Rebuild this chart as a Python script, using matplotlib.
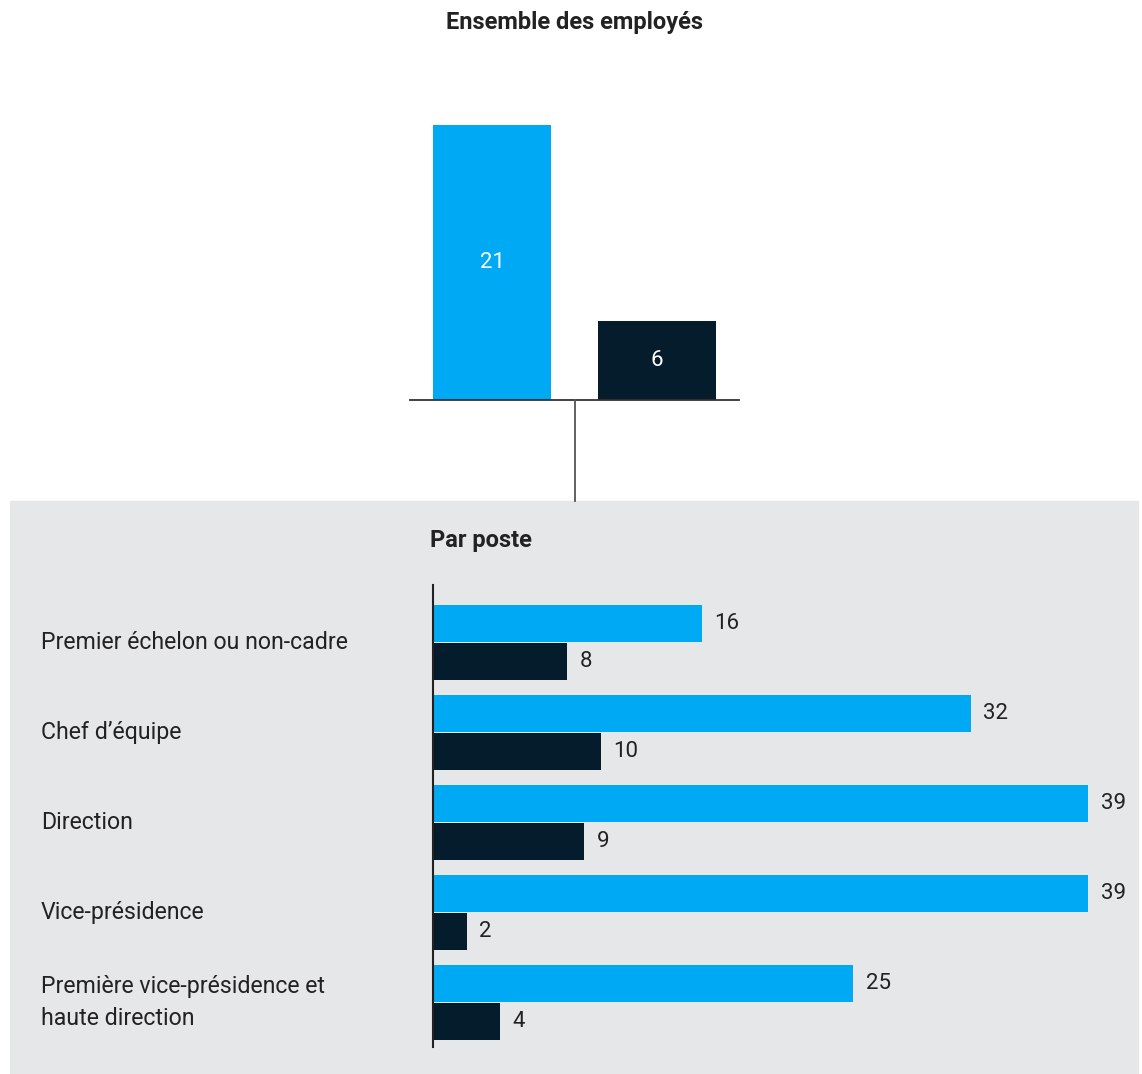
import matplotlib.pyplot as plt
from matplotlib.patches import Rectangle
from matplotlib.transforms import blended_transform_factory

plt.rcParams['font.family'] = ['Roboto', 'DejaVu Sans']

# Ensemble des employés
overall_values = [21, 6]

# Par poste
postes = ['Premier échelon ou non-cadre', 'Chef d\u2019équipe', 'Direction',
          'Vice-présidence', 'Première vice-présidence et\nhaute direction']
serie_bleue = [16, 32, 39, 39, 25]
serie_foncee = [8, 10, 9, 2, 4]

BLUE = '#00A9F4'
DARK = '#051C2C'
PANEL = '#E6E7E9'
TXT = '#222222'

W, H = 1142, 1074
fig = plt.figure(figsize=(W / 100, H / 100), dpi=100)


def box(x0, y0, x1, y1):
    # pixel box (top-left origin) -> figure fraction rect
    return [x0 / W, 1 - y1 / H, (x1 - x0) / W, (y1 - y0) / H]


# grey panel behind the breakdown
fig.patches.append(Rectangle((10 / W, 0), (1138 - 10) / W, 1 - 501 / H,
                             transform=fig.transFigure, color=PANEL, zorder=-5))

# stem linking the two parts
fig.add_artist(plt.Line2D([575 / W, 575 / W], [1 - 400 / H, 1 - 501 / H],
                          transform=fig.transFigure, color='#555555', lw=1.3))

fig.text(575 / W, 1 - 22 / H, 'Ensemble des employés', ha='center', va='center',
         fontsize=17, fontweight='bold', color=TXT)

# top column chart
ax1 = fig.add_axes(box(410, 125, 739, 400))
ax1.bar([0, 1], overall_values, width=0.715, color=[BLUE, DARK])
ax1.set_xlim(-0.5, 1.5)
ax1.set_ylim(0, max(overall_values))
for i, v in enumerate(overall_values):
    ax1.text(i, v / 2, str(v), ha='center', va='center', color='white', fontsize=16)
ax1.axhline(0, color='#333333', lw=1.3, clip_on=False)
for s in ax1.spines.values():
    s.set_visible(False)
ax1.set_xticks([])
ax1.set_yticks([])
ax1.patch.set_visible(False)

fig.text(430 / W, 1 - 541 / H, 'Par poste', ha='left', va='center',
         fontsize=17, fontweight='bold', color=TXT)

# horizontal bars by position
ax2 = fig.add_axes(box(433, 585, 1138, 1047))
ax2.patch.set_visible(False)
ypos = list(range(len(postes)))
off = 0.208
h = 0.415
ax2.barh([y - off for y in ypos], serie_bleue, height=h, color=BLUE)
ax2.barh([y + off for y in ypos], serie_foncee, height=h, color=DARK)
ax2.set_xlim(0, (1138 - 433) / 16.8)
ax2.set_ylim(4.494, -0.639)
for y, b, d in zip(ypos, serie_bleue, serie_foncee):
    ax2.text(b + 0.75, y - off, str(b), ha='left', va='center', fontsize=16, color=TXT)
    ax2.text(d + 0.75, y + off, str(d), ha='left', va='center', fontsize=16, color=TXT)
for s in ['top', 'right', 'bottom']:
    ax2.spines[s].set_visible(False)
ax2.spines['left'].set_color(TXT)
ax2.spines['left'].set_linewidth(1.5)
ax2.set_xticks([])
ax2.set_yticks([])

# category labels: figure x, data y
tr = blended_transform_factory(fig.transFigure, ax2.transData)
for y, name in zip(ypos, postes):
    ax2.text(41 / W, y, name, transform=tr, ha='left', va='center', fontsize=16.7,
             color=TXT, linespacing=1.45, clip_on=False)

fig.savefig('out.png', dpi=100)
